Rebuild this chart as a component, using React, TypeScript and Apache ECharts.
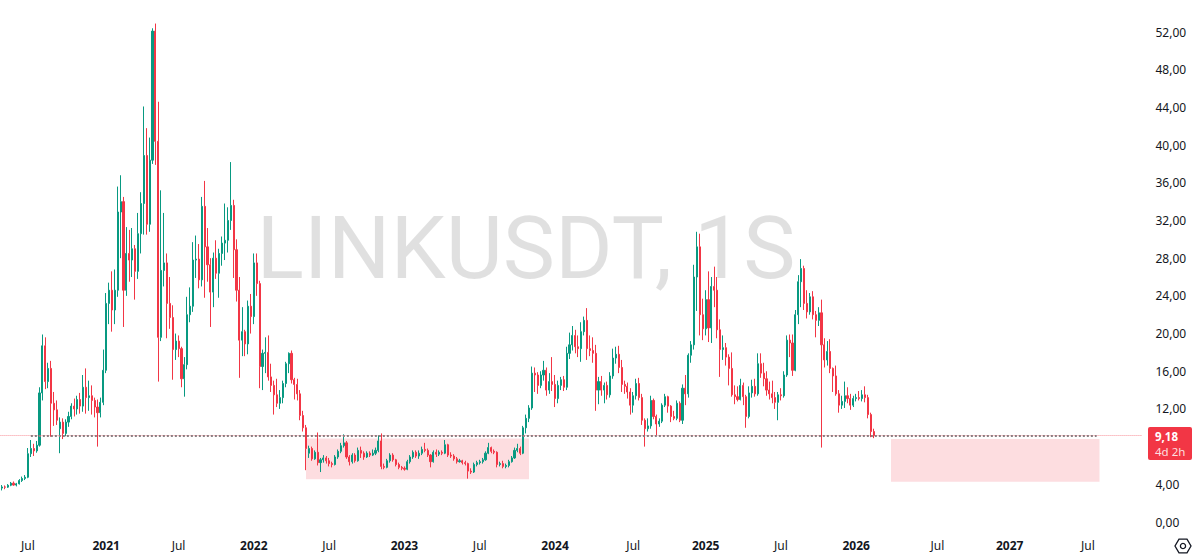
import React, { useEffect, useRef } from "react";
import * as echarts from "echarts";

// ---- data -----------------------------------------------------------------
const firstWeek = Date.UTC(2020, 4, 4); // first weekly candle (Mon)
const slotCount = 394; // weekly slots shown on the time axis (incl. future)

// weekly candles: [open, close, low, high]
const candles: number[][] = [
  // 2020
  [3.6, 3.72, 3.35, 3.92], [3.72, 3.7, 3.48, 3.88], [3.7, 3.9, 3.62, 4.02], [3.9, 4.12, 3.8, 4.25], [4.12, 3.92, 3.85, 4.3],
  [3.92, 4.05, 3.78, 4.15], [4.05, 4.4, 3.98, 4.55], [4.4, 4.62, 4.25, 4.82], [4.62, 4.75, 4.45, 4.98], [4.75, 7.25, 4.65, 7.85],
  [7.25, 7.8, 6.9, 8.7], [7.8, 7.55, 7.0, 8.3], [7.55, 8.15, 7.35, 8.6], [8.15, 13.7, 8.0, 14.3], [13.7, 18.7, 12.9, 19.9],
  [18.7, 14.9, 14.1, 19.6], [14.9, 16.3, 14.2, 16.9], [16.3, 12.6, 9.05, 17.1], [12.6, 11.9, 10.2, 13.8], [11.9, 10.8, 10.3, 12.9],
  [9.9, 10.6, 7.3, 11.1], [10.6, 9.4, 8.8, 11.0], [9.4, 10.6, 9.1, 10.9], [10.6, 11.2, 10.1, 11.7], [11.2, 12.3, 10.9, 12.6],
  [12.3, 12.0, 11.2, 13.1], [12.0, 13.0, 11.4, 13.4], [13.0, 12.3, 11.5, 13.7], [12.3, 14.3, 11.7, 15.6], [14.3, 13.2, 11.5, 16.3],
  [13.2, 13.4, 11.8, 15.0], [13.4, 12.9, 11.4, 14.5], [12.9, 12.2, 11.1, 13.2], [12.2, 11.6, 8.0, 13.0], [11.6, 12.7, 11.1, 13.2],
  // 2021
  [12.7, 16.1, 12.4, 18.3], [16.1, 23.2, 15.8, 24.3], [23.2, 24.6, 21.0, 25.4], [24.6, 22.5, 20.2, 26.6], [22.5, 24.6, 21.0, 26.8],
  [24.6, 32.9, 23.9, 35.6], [32.9, 34.0, 28.0, 36.8], [34.0, 24.6, 20.7, 34.5], [24.6, 28.5, 24.0, 31.3], [28.5, 27.8, 25.5, 31.0],
  [27.8, 29.0, 26.0, 31.2], [29.0, 26.6, 23.6, 29.4], [26.6, 30.6, 25.8, 32.8], [30.6, 33.8, 28.5, 35.0], [33.8, 38.9, 30.5, 44.1],
  [38.9, 31.6, 30.5, 41.8], [31.6, 38.4, 30.8, 40.8], [38.4, 52.1, 38.0, 52.4], [52.1, 40.4, 37.9, 52.9], [40.4, 19.6, 14.9, 44.6],
  [19.6, 26.7, 19.2, 35.2], [26.7, 27.5, 25.0, 32.8], [27.5, 23.2, 19.5, 28.5], [23.2, 21.7, 20.5, 26.0], [21.7, 18.3, 15.1, 23.0],
  [18.3, 19.2, 17.2, 20.0], [19.2, 18.4, 17.5, 19.8], [18.4, 15.2, 14.3, 18.6], [15.2, 16.7, 13.3, 17.5], [16.7, 22.0, 16.2, 23.9],
  [22.0, 22.9, 21.2, 24.9], [22.9, 27.8, 22.3, 29.7], [27.8, 27.9, 25.9, 30.4], [27.9, 25.7, 24.8, 29.5], [25.7, 33.5, 25.0, 34.5],
  [33.5, 29.2, 23.8, 36.2], [29.2, 27.3, 25.5, 31.2], [27.3, 24.4, 20.7, 28.0], [24.4, 28.0, 22.8, 28.6], [28.0, 26.4, 25.8, 29.9],
  [26.4, 28.5, 23.8, 29.0], [28.5, 29.6, 27.2, 30.3], [29.6, 29.9, 27.8, 33.8], [29.9, 32.0, 28.6, 33.4], [32.0, 33.6, 31.0, 38.2],
  [33.6, 28.9, 25.9, 34.2], [28.9, 24.6, 23.4, 30.0], [24.6, 19.3, 15.3, 26.0], [19.3, 20.2, 17.6, 22.8], [20.2, 18.9, 17.6, 20.4],
  [18.9, 22.9, 17.8, 23.5], [22.9, 21.8, 20.0, 24.2],
  // 2022
  [21.8, 27.5, 21.0, 28.5], [27.5, 25.3, 24.0, 28.5], [25.3, 16.5, 14.2, 25.6], [16.5, 17.9, 14.0, 18.3], [17.9, 18.0, 15.8, 19.6],
  [18.0, 15.4, 15.0, 19.8], [15.4, 14.5, 13.8, 16.8], [14.5, 13.5, 11.4, 15.0], [13.5, 12.6, 12.2, 15.2], [12.6, 13.2, 12.0, 14.0],
  [13.2, 14.7, 12.6, 15.0], [14.7, 16.8, 14.3, 17.0], [16.8, 17.9, 15.8, 18.0], [17.9, 15.1, 14.7, 18.2], [15.1, 14.6, 13.0, 15.3],
  [14.6, 13.6, 12.9, 15.2], [13.6, 11.3, 10.8, 14.0], [11.3, 10.0, 9.6, 11.8], [10.0, 7.8, 5.5, 10.3], [7.3, 7.8, 6.8, 8.1],
  [7.8, 6.7, 6.5, 8.0], [6.7, 7.4, 6.6, 7.6], [7.4, 6.3, 6.0, 9.5], [6.3, 6.6, 5.3, 6.8], [6.6, 6.8, 6.3, 7.1],
  [6.8, 6.5, 6.2, 7.0], [6.5, 6.2, 5.9, 6.8], [6.2, 6.1, 5.8, 6.4], [6.1, 6.9, 6.0, 7.1], [6.9, 7.5, 6.7, 7.7],
  [7.5, 8.1, 7.3, 8.4], [8.1, 8.4, 7.9, 9.3], [8.4, 6.9, 6.7, 8.6], [6.9, 6.4, 6.0, 7.1], [6.4, 7.1, 6.2, 7.3],
  [7.1, 6.5, 6.3, 7.3], [6.5, 7.6, 6.4, 7.9], [7.6, 7.3, 6.8, 8.0], [7.3, 6.9, 6.6, 7.5], [6.9, 7.3, 6.8, 7.5],
  [7.3, 7.1, 6.9, 7.5], [7.1, 7.3, 7.0, 7.7], [7.3, 7.6, 7.1, 7.9], [7.6, 8.6, 7.4, 9.2], [8.6, 5.9, 5.6, 9.4],
  [5.9, 5.8, 5.6, 6.2], [5.8, 6.5, 5.7, 6.7], [6.5, 7.1, 6.3, 7.3], [7.1, 6.6, 6.4, 7.3], [6.6, 6.1, 5.9, 6.7],
  [6.1, 5.8, 5.6, 6.3], [5.8, 5.7, 5.5, 5.95],
  // 2023
  [5.7, 5.6, 5.45, 5.9], [5.6, 6.4, 5.5, 6.6], [6.4, 6.9, 6.2, 7.1], [6.9, 7.4, 6.7, 7.6], [7.4, 7.0, 6.8, 7.6],
  [7.0, 7.3, 6.7, 7.6], [7.3, 7.7, 7.1, 8.0], [7.7, 7.6, 7.4, 8.4], [7.6, 7.1, 6.9, 7.8], [7.1, 6.4, 5.8, 7.2],
  [6.4, 7.4, 6.3, 7.6], [7.4, 7.2, 6.9, 7.7], [7.2, 7.4, 7.0, 7.6], [7.4, 7.3, 7.1, 7.6], [7.3, 8.2, 7.2, 8.7],
  [8.2, 7.1, 6.9, 8.3], [7.1, 7.0, 6.8, 7.4], [7.0, 6.7, 6.5, 7.2], [6.7, 6.4, 6.2, 6.9], [6.4, 6.5, 6.3, 6.7],
  [6.5, 6.3, 6.1, 6.6], [6.3, 6.2, 6.0, 6.5], [6.2, 5.4, 4.6, 6.3], [5.4, 5.3, 5.1, 5.7], [5.3, 6.1, 5.2, 6.3],
  [6.1, 6.3, 5.9, 6.5], [6.3, 6.4, 6.1, 6.6], [6.4, 6.6, 6.2, 6.8], [6.6, 7.3, 6.5, 7.5], [7.3, 7.9, 7.2, 8.4],
  [7.9, 7.5, 7.3, 8.0], [7.5, 7.4, 7.2, 7.7], [7.4, 6.1, 5.8, 7.5], [6.1, 6.2, 5.9, 6.4], [6.2, 5.9, 5.7, 6.5],
  [5.9, 6.0, 5.7, 6.2], [6.0, 6.4, 5.8, 6.6], [6.4, 6.8, 6.3, 7.0], [6.8, 7.6, 6.7, 7.9], [7.6, 7.8, 7.4, 8.3],
  [7.8, 7.3, 7.1, 8.0], [7.3, 10.0, 7.2, 10.2], [10.0, 11.0, 9.4, 11.4], [11.0, 12.1, 10.6, 12.4], [12.1, 15.8, 11.9, 16.5],
  [15.8, 15.6, 13.8, 16.4], [15.6, 14.5, 13.6, 15.9], [14.5, 15.6, 14.2, 16.0], [15.6, 16.1, 15.0, 17.1], [16.1, 14.0, 13.4, 16.4],
  [14.0, 14.9, 13.6, 15.8], [14.9, 14.6, 13.9, 17.5],
  // 2024
  [14.6, 13.1, 12.2, 15.6], [13.1, 14.5, 12.6, 15.0], [14.5, 15.1, 14.0, 15.4], [15.1, 14.3, 13.9, 15.5], [14.3, 17.9, 14.0, 18.6],
  [17.9, 18.8, 17.3, 20.1], [18.8, 19.8, 18.2, 20.8], [19.8, 18.6, 17.9, 20.4], [18.6, 18.4, 17.5, 19.8], [18.4, 20.2, 17.0, 21.2],
  [20.2, 21.4, 19.8, 21.8], [21.4, 18.4, 17.2, 22.7], [18.4, 18.2, 17.6, 19.8], [18.2, 17.9, 16.9, 19.6], [17.9, 14.0, 11.8, 18.8],
  [14.0, 14.9, 12.5, 15.4], [14.9, 14.0, 13.4, 15.5], [14.0, 14.5, 12.6, 14.8], [14.5, 13.5, 13.0, 14.9], [13.5, 15.5, 13.2, 15.9],
  [15.5, 17.4, 15.2, 18.4], [17.4, 17.8, 16.8, 18.6], [17.8, 16.4, 15.8, 18.7], [16.4, 14.6, 13.8, 17.2], [14.6, 14.4, 13.6, 15.0],
  [14.4, 13.8, 13.1, 14.8], [13.8, 12.4, 11.4, 14.2], [12.4, 13.4, 11.6, 13.8], [13.4, 14.7, 13.0, 15.2], [14.7, 13.2, 12.9, 15.3],
  [13.2, 10.8, 10.3, 13.6], [10.8, 9.9, 8.0, 11.0], [9.9, 10.2, 9.6, 11.0], [10.2, 12.9, 9.9, 13.4], [12.9, 11.2, 10.9, 13.1],
  [11.2, 10.4, 9.2, 11.4], [10.4, 10.7, 10.1, 11.0], [10.7, 12.4, 10.5, 12.6], [12.4, 13.3, 12.2, 13.6], [13.3, 12.3, 11.6, 13.4],
  [12.3, 11.2, 10.6, 12.4], [11.2, 11.0, 10.8, 11.8], [11.0, 12.6, 10.8, 12.9], [12.6, 10.8, 10.6, 12.8], [10.8, 14.2, 10.4, 14.6],
  [14.2, 13.6, 12.4, 15.6], [13.6, 17.7, 13.2, 17.9], [17.7, 18.8, 16.9, 19.2], [18.8, 26.0, 18.3, 27.3], [26.0, 29.2, 22.4, 30.8],
  [29.2, 22.0, 19.8, 30.6], [22.0, 20.5, 19.3, 23.7], [20.5, 23.6, 19.8, 24.6],
  // 2025
  [23.6, 20.6, 19.1, 26.6], [20.6, 25.0, 19.0, 26.0], [25.0, 24.6, 22.8, 27.1], [24.6, 20.4, 19.5, 26.0], [20.4, 18.3, 15.4, 21.5],
  [18.3, 18.5, 17.2, 19.8], [18.5, 17.5, 16.6, 19.0], [17.5, 16.3, 14.5, 17.8], [16.3, 13.5, 13.3, 18.0], [13.5, 13.3, 12.5, 14.5],
  [13.3, 13.0, 12.8, 14.4], [13.0, 14.5, 12.9, 15.2], [14.5, 13.3, 12.4, 14.8], [13.3, 11.2, 10.0, 13.5], [11.2, 13.7, 11.0, 14.4],
  [13.7, 14.4, 13.2, 15.1], [14.4, 13.6, 13.3, 15.2], [13.6, 16.8, 13.4, 17.9], [16.8, 15.8, 15.3, 17.9], [15.8, 15.2, 14.4, 16.9],
  [15.2, 14.0, 13.4, 16.0], [14.0, 13.6, 13.0, 14.9], [13.6, 13.2, 12.6, 15.0], [13.2, 12.7, 12.0, 13.8], [12.7, 13.5, 10.8, 13.8],
  [13.5, 13.4, 12.9, 14.2], [13.4, 15.6, 13.2, 16.0], [15.6, 19.3, 15.4, 19.8], [19.3, 19.0, 17.5, 19.9], [19.0, 16.1, 15.5, 19.9],
  [16.1, 22.0, 16.0, 22.5], [22.0, 25.5, 21.0, 26.2], [25.5, 26.9, 22.8, 27.9], [26.9, 23.2, 22.5, 27.2], [23.2, 22.3, 21.6, 24.6],
  [22.3, 23.9, 22.0, 24.3], [23.9, 22.0, 21.5, 24.5], [22.0, 21.4, 19.6, 22.4], [21.4, 22.2, 20.8, 22.8], [22.2, 18.8, 7.9, 23.6],
  [18.8, 17.2, 16.4, 19.5], [17.2, 18.1, 16.6, 19.2], [18.1, 16.3, 15.8, 19.4], [16.3, 15.5, 13.8, 16.4], [15.5, 13.6, 13.4, 16.6],
  [13.6, 12.4, 11.6, 14.0], [12.4, 12.8, 12.0, 13.4], [12.8, 13.4, 12.1, 14.9], [13.4, 13.1, 12.6, 14.3], [13.1, 12.4, 11.9, 13.6],
  [12.4, 13.1, 12.2, 13.4], [13.1, 13.2, 12.8, 13.6],
  // 2026
  [13.2, 13.1, 12.9, 13.9], [13.1, 13.5, 12.8, 14.0], [13.5, 13.2, 12.7, 14.4], [13.2, 11.4, 11.0, 13.5], [11.4, 9.6, 9.0, 11.6],
  [9.6, 9.18, 8.9, 9.9],
];

// time-axis labels: [week slot, text]
const timeTicks: [number, string][] = [
  [9, "Jul"], [36, "2021"], [61, "Jul"], [87, "2022"], [113, "Jul"], [139, "2023"], [165, "Jul"],
  [191, "2024"], [218, "Jul"], [243, "2025"], [269, "Jul"], [295, "2026"], [323, "Jul"], [348, "2027"], [375, "Jul"],
];

const priceMin = 0;
const priceMax = 55.4; // value at the top edge of the pane
const priceStep = 4;

const symbolTitle = "LINKUSDT, 1S";
const lastPrice = 9.18;
const countdown = "4d 2h";

// drawn rectangles (week slot from/to, price low/high)
const zones = [
  { from: 105, to: 182, low: 4.55, high: 8.85 },
  { from: 307, to: 379, low: 4.28, high: 8.8 },
];
// drawn horizontal level
const level = { from: 10, to: 378, value: 9.2 };

// ---------------------------------------------------------------------------
const UP = "#089981";
const DOWN = "#f23645";
const TEXT = "#131722";
const FONT = "'Noto Sans', sans-serif";

const weekCategories: string[] = Array.from({ length: slotCount }, (_, i) =>
  new Date(firstWeek + i * 7 * 86400000).toISOString().slice(0, 10)
);
const tickMap = new Map<number, string>(timeTicks);
const fmtPrice = (v: number) => v.toFixed(2).replace(".", ",");

export default function App() {
  const ref = useRef<HTMLDivElement>(null);

  useEffect(() => {
    document.body.style.margin = "0";
    if (!ref.current) return;
    const chart = echarts.init(ref.current, undefined, { renderer: "svg" });

    const option: any = {
      animation: false,
      grid: { left: 0.45, right: 58.5, top: 0, bottom: 35 },
      xAxis: {
        type: "category",
        data: weekCategories,
        boundaryGap: true,
        axisLine: { show: false },
        axisTick: { show: false },
        splitLine: { show: false },
        axisLabel: {
          interval: (i: number) => tickMap.has(i),
          formatter: (_v: string, i: number) => {
            const t = tickMap.get(i) || "";
            return /^\d{4}$/.test(t) ? `{y|${t}}` : `{m|${t}}`;
          },
          margin: 17,
          rich: {
            y: { fontFamily: FONT, fontSize: 12, fontWeight: "bold", color: TEXT },
            m: { fontFamily: FONT, fontSize: 12, color: TEXT },
          },
        },
      },
      yAxis: {
        type: "value",
        position: "right",
        min: priceMin,
        max: priceMax,
        interval: priceStep,
        axisLine: { show: false },
        axisTick: { show: false },
        splitLine: { show: false },
        axisLabel: {
          formatter: (v: number) => fmtPrice(v),
          showMaxLabel: false,
          margin: 14,
          color: TEXT,
          fontFamily: FONT,
          fontSize: 12,
        },
      },
      series: [
        {
          type: "candlestick",
          data: candles,
          barWidth: 1.6,
          itemStyle: {
            color: UP,
            color0: DOWN,
            borderColor: UP,
            borderColor0: DOWN,
            borderWidth: 1,
          },
          markArea: {
            silent: true,
            itemStyle: { color: "rgba(242,54,69,0.17)" },
            data: zones.map((z) => [
              { xAxis: weekCategories[z.from], yAxis: z.high },
              { xAxis: weekCategories[z.to], yAxis: z.low },
            ]),
          },
          markLine: {
            silent: true,
            symbol: "none",
            label: { show: false },
            data: [
              { yAxis: lastPrice, lineStyle: { color: DOWN, type: "dotted", width: 1, opacity: 0.55 } },
              [
                { coord: [weekCategories[level.from], level.value], lineStyle: { color: "#8a7f82", type: "dotted", width: 2 } },
                { coord: [weekCategories[level.to], level.value] },
              ],
            ],
          },
        },
      ],
    };
    chart.setOption(option);

    const yPix = chart.convertToPixel({ yAxisIndex: 0 }, lastPrice) as number;
    chart.setOption({
      graphic: [
        {
          type: "text",
          z: 0,
          x: 526,
          y: 247,
          style: {
            text: symbolTitle,
            align: "center",
            verticalAlign: "middle",
            fontFamily: "Roboto, sans-serif",
            fontSize: 88,
            fill: "rgba(0,0,0,0.12)",
          },
        },
        {
          type: "rect",
          z: 10,
          shape: { x: 1148, y: yPix - 8.5, width: 44, height: 33, r: 2 },
          style: { fill: DOWN },
        },
        {
          type: "text",
          z: 11,
          x: 1155,
          y: yPix - 7,
          style: {
            text: `{p|${fmtPrice(lastPrice)}}\n{c|${countdown}}`,
            verticalAlign: "top",
            rich: {
              p: { fill: "#fff", fontFamily: FONT, fontSize: 11.5, fontWeight: "bold", lineHeight: 15 },
              c: { fill: "rgba(255,255,255,0.85)", fontFamily: FONT, fontSize: 11.5, lineHeight: 15 },
            },
          },
        },
        {
          type: "polygon",
          z: 11,
          shape: {
            points: Array.from({ length: 6 }, (_, k) => {
              const a = (Math.PI / 3) * k;
              return [1183 + 8 * Math.cos(a), 546 + 8 * Math.sin(a)];
            }),
          },
          style: { fill: "none", stroke: TEXT, lineWidth: 1.3 },
        },
        {
          type: "circle",
          z: 11,
          shape: { cx: 1183, cy: 546, r: 2.6 },
          style: { fill: "none", stroke: TEXT, lineWidth: 1.3 },
        },
      ],
    });

    return () => chart.dispose();
  }, []);

  return <div ref={ref} style={{ width: 1200, height: 557 }} />;
}
